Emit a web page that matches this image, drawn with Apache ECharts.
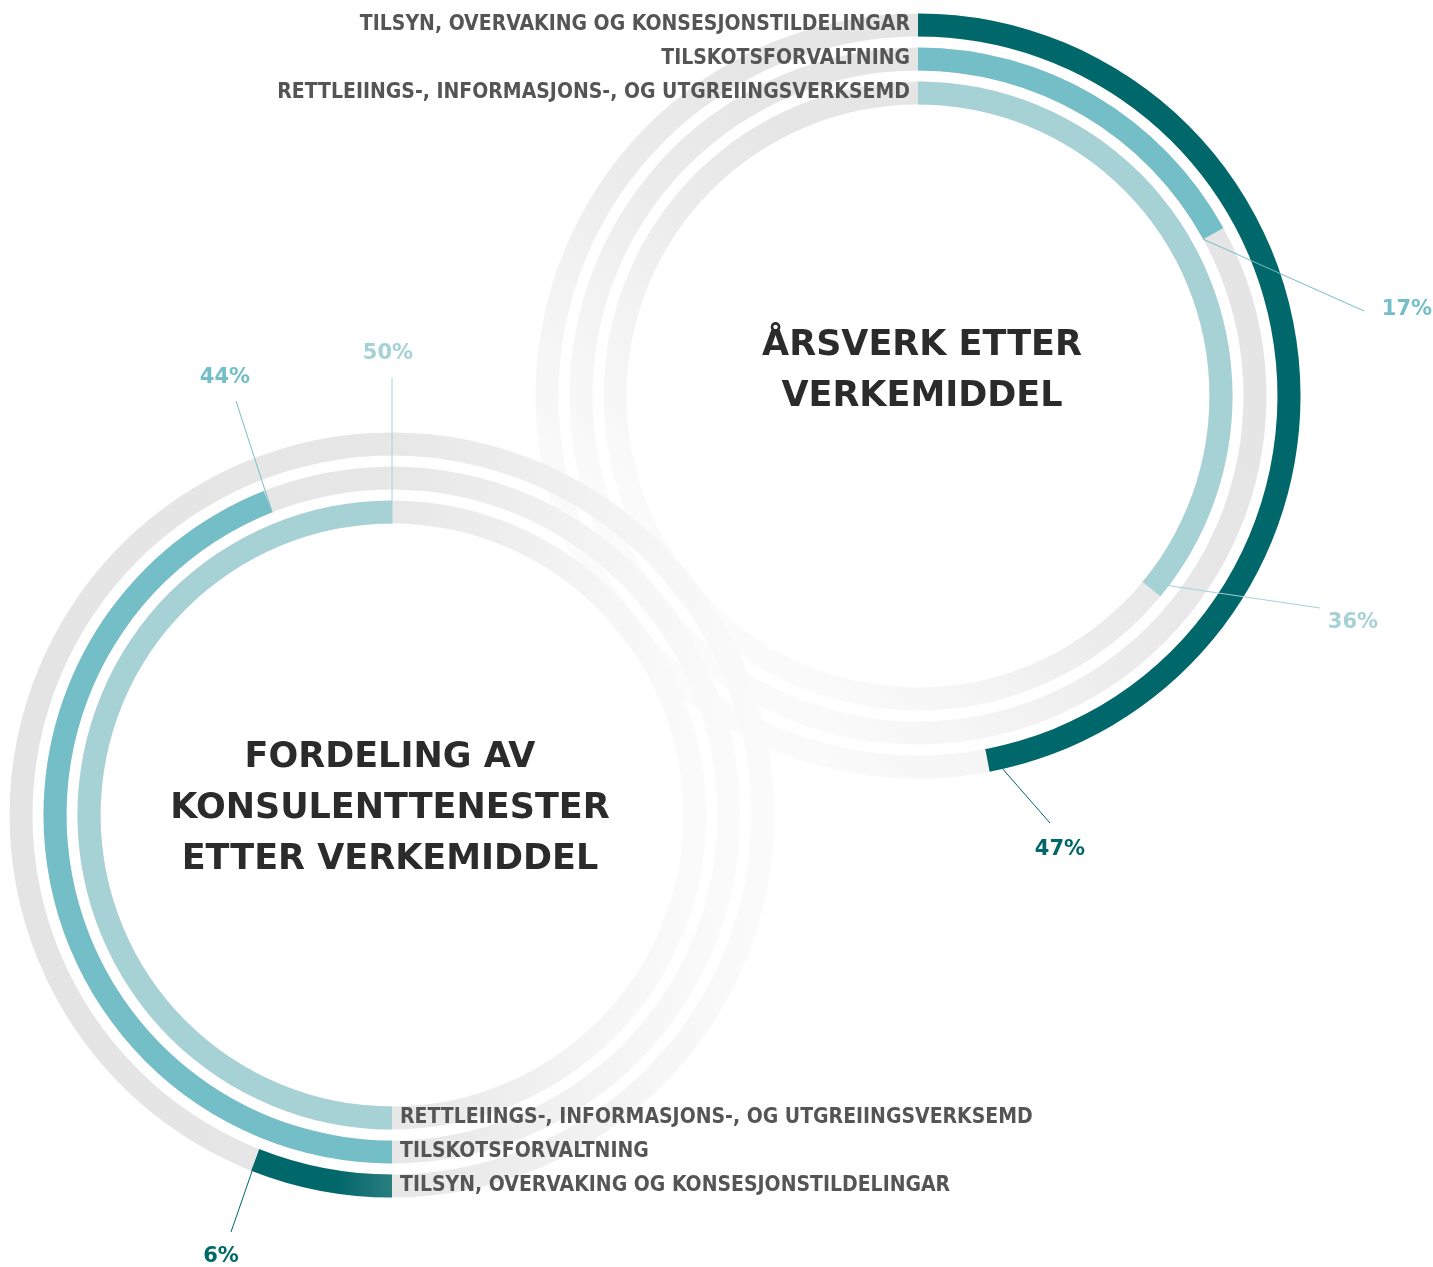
<!DOCTYPE html>
<html>
<head>
<meta charset="utf-8">
<script src="https://cdn.jsdelivr.net/npm/echarts@6/dist/echarts.min.js"></script>
<style>
  html, body { margin: 0; padding: 0; background: #fff; }
  #chart { width: 1433px; height: 1267px; }
</style>
</head>
<body>
<div id="chart"></div>
<script>
var categories = [
  'RETTLEIINGS-, INFORMASJONS-, OG UTGREIINGSVERKSEMD',
  'TILSKOTSFORVALTNING',
  'TILSYN, OVERVAKING OG KONSESJONSTILDELINGAR'
];
var arsverkValues = [36, 17, 47];
var konsulentValues = [50, 44, 6];
var chartTitles = ['ÅRSVERK ETTER\nVERKEMIDDEL', 'FORDELING AV\nKONSULENTTENESTER\nETTER VERKEMIDDEL'];

var ringColors = ['#a6d2d6', '#74bec8', '#00676a'];
var centers = [[918, 396], [392, 815]];
var startAngles = [90, 270];
var ringRadius = [286, 388];
var barWidth = 23;
var titleSpots = [[922, 371], [390, 809]];
// leader line end + label centre for each ring: [lineX, lineY, textX, textY]
var labelSpots = [
  [[1320, 608, 1353, 623], [1364, 311, 1407, 310], [1050, 823, 1060, 850]],
  [[392, 378, 388, 354], [236, 401, 225, 378], [231, 1232, 221, 1257]]
];

var chart = echarts.init(document.getElementById('chart'));

// grey tracks fade out towards the middle of the picture
var trackColors = [
  new echarts.graphic.LinearGradient(1, 0, 0, 1, [
    { offset: 0, color: '#e4e4e4' },
    { offset: 0.4, color: '#e6e6e6' },
    { offset: 0.55, color: '#ececec' },
    { offset: 0.66, color: '#f3f3f3' },
    { offset: 0.8, color: '#fafafa' },
    { offset: 1, color: '#ffffff' }
  ]),
  new echarts.graphic.LinearGradient(0, 0, 1, 0, [
    { offset: 0, color: '#e4e4e4' },
    { offset: 0.5, color: '#e7e7e7' },
    { offset: 0.7, color: '#efefef' },
    { offset: 0.85, color: '#f6f6f6' },
    { offset: 1, color: '#fbfbfb' }
  ])
];

function ringData(values, p) {
  return values.map(function (v, i) {
    var color = ringColors[i];
    if (p === 1 && i === 2) {
      color = new echarts.graphic.LinearGradient(0, 0, 1, 0, [
        { offset: 0, color: '#00676a' },
        { offset: 0.6, color: '#00676a' },
        { offset: 1, color: '#2a7d7f' }
      ]);
    }
    return { value: v, itemStyle: { color: color } };
  });
}

var labelFont = '"DejaVu Sans Condensed", "DejaVu Sans", sans-serif';

var option = {
  animation: false,
  backgroundColor: '#ffffff',
  polar: centers.map(function (c) {
    return { center: c, radius: ringRadius };
  }),
  angleAxis: startAngles.map(function (a, p) {
    return {
      polarIndex: p,
      type: 'value',
      min: 0,
      max: 100,
      startAngle: a,
      clockwise: true,
      show: false
    };
  }),
  radiusAxis: centers.map(function (c, p) {
    return {
      polarIndex: p,
      type: 'category',
      data: categories,
      z: 10,
      axisLine: { show: false },
      axisTick: { show: false },
      splitLine: { show: false },
      splitArea: { show: false },
      axisLabel: {
        show: true,
        interval: 0,
        margin: 8,
        color: '#555555',
        fontWeight: 'bold',
        fontSize: 21,
        fontFamily: labelFont
      }
    };
  }),
  series: [arsverkValues, konsulentValues].map(function (values, p) {
    return {
      type: 'bar',
      coordinateSystem: 'polar',
      polarIndex: p,
      barWidth: barWidth,
      showBackground: true,
      backgroundStyle: { color: trackColors[p] },
      silent: true,
      data: ringData(values, p)
    };
  })
};
chart.setOption(option);

// leader lines, percent labels and the two headings
var graphics = [];
[arsverkValues, konsulentValues].forEach(function (values, p) {
  var c = centers[p];
  values.forEach(function (v, i) {
    var pt = chart.convertToPixel({ polarIndex: p }, [i, v]);
    var dx = pt[0] - c[0], dy = pt[1] - c[1];
    var r = Math.sqrt(dx * dx + dy * dy);
    var k = (r - barWidth / 2) / r;
    var spot = labelSpots[p][i];
    graphics.push({
      type: 'line',
      z: 100,
      silent: true,
      shape: { x1: c[0] + dx * k, y1: c[1] + dy * k, x2: spot[0], y2: spot[1] },
      style: { stroke: ringColors[i], lineWidth: 1 }
    });
    graphics.push({
      type: 'text',
      z: 100,
      silent: true,
      x: spot[2],
      y: spot[3],
      style: {
        text: v + '%',
        fill: ringColors[i],
        font: 'bold 21px "DejaVu Sans"',
        align: 'center',
        verticalAlign: 'middle'
      }
    });
  });
});
chartTitles.forEach(function (t, p) {
  graphics.push({
    type: 'text',
    z: 100,
    silent: true,
    x: titleSpots[p][0],
    y: titleSpots[p][1],
    style: {
      text: t,
      fill: '#2b2b2b',
      font: 'bold 35px "DejaVu Sans"',
      lineHeight: 51,
      align: 'center',
      verticalAlign: 'middle'
    }
  });
});
chart.setOption({ graphic: graphics });
</script>
</body>
</html>
